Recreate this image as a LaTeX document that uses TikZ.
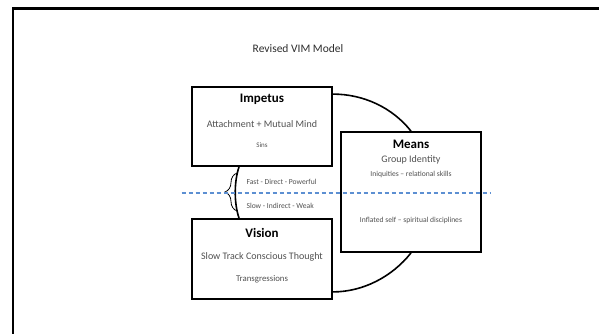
\documentclass[tikz,border=0pt]{standalone}
\usepackage{fontspec}
\setmainfont{Carlito}
\usetikzlibrary{decorations.pathreplacing}
\definecolor{vimblue}{RGB}{92,143,210}
\definecolor{vimgray}{RGB}{80,80,80}
\definecolor{vimdark}{RGB}{45,45,45}

\begin{document}
\begin{tikzpicture}[x=1pt, y=-1pt,
        box/.style={draw, line width=1.8pt, minimum width=140pt, inner sep=0pt},
        head/.style={font=\fontsize{13}{15}\selectfont\bfseries},
        body/.style={text=vimgray, font=\fontsize{10}{12}\selectfont},
        small/.style={text=vimgray, font=\fontsize{7.6}{9}\selectfont},
        link/.style={line width=1.6pt}]
        \useasboundingbox (0,0) rectangle (599,334);
        \clip (0,0) rectangle (599,334);
        \draw[line width=2.2pt] (13,340) -- (13,8.5) -- (605,8.5);

        \node[text=vimdark, font=\fontsize{11.5}{13}\selectfont] (title)at(298,49) {Revised VIM Model};

        \node[box, minimum height=79pt] (impetus)at(262,126.5) {};
        \node[box, minimum height=120pt] (means)at(411,192) {};
        \node[box, minimum height=80pt] (vision)at(262,259) {};

        \node[head] (ihead)at(262,99) {Impetus};
        \node[body] (itext)at(262,124) {Attachment + Mutual Mind};
        \node[small, font=\fontsize{7}{8}\selectfont] (isins)at(262,145) {Sins};

        \node[head] (mhead)at(411,144) {Means};
        \node[body] (mtext)at(411,160) {Group Identity};
        \node[small] (minia)at(411,174) {Iniquities -- relational skills};
        \node[small] (mself)at(411,220) {Inflated self -- spiritual disciplines};

        \node[head] (vhead)at(262,233) {Vision};
        \node[body] (vtext)at(262,257) {Slow Track Conscious Thought};
        \node[small, font=\fontsize{8.8}{10}\selectfont] (vtrans)at(262,279) {Transgressions};

        \node[small, anchor=west] (fast)at(243,182) {Fast - Direct - Powerful};
        \node[small, anchor=west] (slow)at(243,206) {Slow - Indirect - Weak};

        \draw[link] ([yshift=-8pt]impetus.north east) .. controls +(30,0) and +(-19,-24) .. (means.north);
        \draw[link] (means.south) .. controls +(-19,24) and +(30,0) .. ([yshift=8pt]vision.south east);
        \draw[link] ([xshift=-23pt]impetus.south) .. controls +(-5,15) and +(-5,-15) .. ([xshift=-23pt]vision.north);

        \coordinate (bracebot)at(237,211);
        \coordinate (bracetop)at(237,173);
        \draw[line width=0.8pt, decorate, decoration={brace, amplitude=12pt}] (bracebot) -- (bracetop);

        \coordinate (cutleft)at(181.5,193);
        \coordinate (cutright)at(491,193);
        \draw[vimblue, line width=1.3pt, dash pattern=on 4.5pt off 2.5pt] (cutleft) -- (cutright);
\end{tikzpicture}
\end{document}
